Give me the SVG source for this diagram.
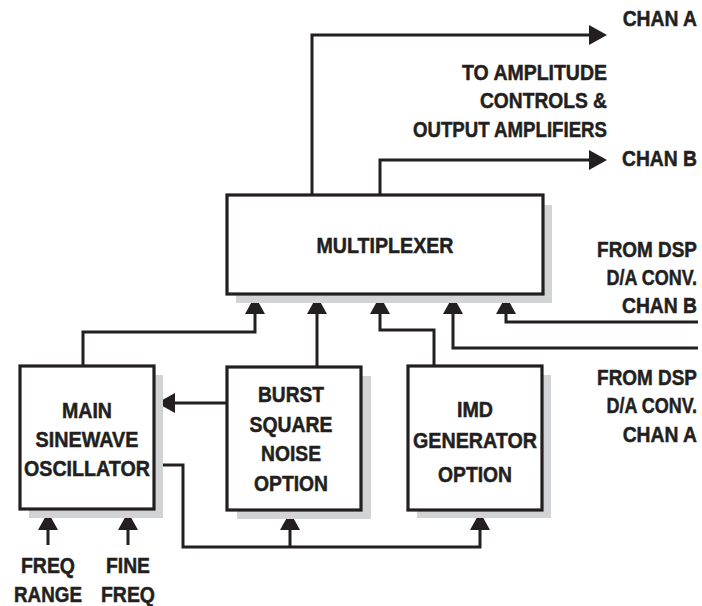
<svg xmlns="http://www.w3.org/2000/svg" width="702" height="606" viewBox="0 0 702 606">
<style>
.shadow{fill:#d1d3d4}
.box{fill:#fff;stroke:#231f20;stroke-width:3.2}
.wire{fill:none;stroke:#231f20;stroke-width:3}
.arr{marker-end:url(#ah)}
text{font-family:"Liberation Sans",Arial,Helvetica,sans-serif;font-weight:bold;font-size:22px;fill:#231f20;stroke:#231f20;stroke-width:0.5}
.e{text-anchor:end}
.m{text-anchor:middle}
</style>
<defs>
<marker id="ah" markerUnits="userSpaceOnUse" markerWidth="20" markerHeight="20" viewBox="0 0 18 20" refX="1" refY="10" orient="auto">
<path d="M0,0 L18,10 L0,20 Z" fill="#231f20"/>
</marker>
</defs>
<rect width="702" height="606" fill="#fff"/>

<g id="connectors">
<path class="wire arr" d="M312,195 V35 H590"/>
<path class="wire arr" d="M380,195 V160 H590"/>
<path class="wire arr" d="M83,366 V332 H255 V313"/>
<path class="wire arr" d="M317,367 V313"/>
<path class="wire arr" d="M434,366 V330 H380 V313"/>
<path class="wire arr" d="M698,348 H453 V313"/>
<path class="wire arr" d="M698,322 H506 V313"/>
<path class="wire arr" d="M227,403 H174"/>
<path class="wire arr" d="M154,465 H183 V547 H480 V529"/>
<path class="wire arr" d="M290,547 V529"/>
<path class="wire arr" d="M48,545 V529"/>
<path class="wire arr" d="M128,545 V529"/>
</g>

<g id="multiplexer">
<rect class="shadow" x="236" y="205" width="316" height="98"/>
<rect class="box" x="227" y="195" width="316" height="99"/>
<text class="m" x="385" y="253" textLength="137" lengthAdjust="spacingAndGlyphs">MULTIPLEXER</text>
</g>

<g id="main-osc">
<rect class="shadow" x="29" y="375" width="134" height="143"/>
<rect class="box" x="20" y="366" width="134" height="143"/>
<text class="m" x="87" y="418" textLength="50" lengthAdjust="spacingAndGlyphs">MAIN</text>
<text class="m" x="87" y="447" textLength="103" lengthAdjust="spacingAndGlyphs">SINEWAVE</text>
<text class="m" x="87" y="476" textLength="126" lengthAdjust="spacingAndGlyphs">OSCILLATOR</text>
</g>

<g id="burst">
<rect class="shadow" x="237" y="376" width="134" height="143"/>
<rect class="box" x="227" y="367" width="134" height="143"/>
<text class="m" x="291" y="402" textLength="66" lengthAdjust="spacingAndGlyphs">BURST</text>
<text class="m" x="291" y="432" textLength="83" lengthAdjust="spacingAndGlyphs">SQUARE</text>
<text class="m" x="291" y="461" textLength="60" lengthAdjust="spacingAndGlyphs">NOISE</text>
<text class="m" x="291" y="491" textLength="74" lengthAdjust="spacingAndGlyphs">OPTION</text>
</g>

<g id="imd">
<rect class="shadow" x="417" y="375" width="134" height="143"/>
<rect class="box" x="408" y="366" width="134" height="144"/>
<text class="m" x="475" y="417" textLength="36" lengthAdjust="spacingAndGlyphs">IMD</text>
<text class="m" x="475" y="448" textLength="124" lengthAdjust="spacingAndGlyphs">GENERATOR</text>
<text class="m" x="475" y="482" textLength="74" lengthAdjust="spacingAndGlyphs">OPTION</text>
</g>

<g id="labels">
<text class="e" transform="translate(697,26) scale(0.877,1)">CHAN A</text>
<text class="e" x="607" y="80" textLength="145" lengthAdjust="spacingAndGlyphs">TO AMPLITUDE</text>
<text class="e" x="607" y="108" textLength="127" lengthAdjust="spacingAndGlyphs">CONTROLS &amp;</text>
<text class="e" x="607" y="137" textLength="194" lengthAdjust="spacingAndGlyphs">OUTPUT AMPLIFIERS</text>
<text class="e" transform="translate(697,166) scale(0.877,1)">CHAN B</text>
<text class="e" transform="translate(697,257) scale(0.861,1)">FROM DSP</text>
<text class="e" transform="translate(697,285) scale(0.818,1)">D/A CONV.</text>
<text class="e" transform="translate(697,313) scale(0.877,1)">CHAN B</text>
<text class="e" transform="translate(697,385) scale(0.861,1)">FROM DSP</text>
<text class="e" transform="translate(697,413) scale(0.818,1)">D/A CONV.</text>
<text class="e" transform="translate(697,442) scale(0.877,1)">CHAN A</text>
<text class="m" x="48" y="573" textLength="54" lengthAdjust="spacingAndGlyphs">FREQ</text>
<text class="m" x="48" y="602" textLength="68" lengthAdjust="spacingAndGlyphs">RANGE</text>
<text class="m" x="128" y="573" textLength="44" lengthAdjust="spacingAndGlyphs">FINE</text>
<text class="m" x="128" y="602" textLength="54" lengthAdjust="spacingAndGlyphs">FREQ</text>
</g>
</svg>
